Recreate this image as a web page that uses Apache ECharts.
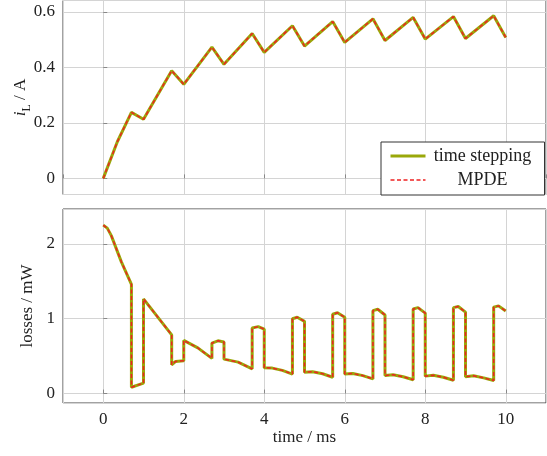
<!DOCTYPE html>
<html>
<head>
<meta charset="utf-8">
<script src="https://cdn.jsdelivr.net/npm/echarts@6/dist/echarts.min.js"></script>
<style>
  html, body { margin: 0; padding: 0; background: #fff; }
</style>
</head>
<body>
<div id="myChart" style="width:547px;height:456px;"></div>
<script>
// inductor current i_L (A)
const currentTime = [0, 0.35, 0.7, 1, 1.7, 2, 2.7, 3, 3.7, 4, 4.7, 5, 5.7, 6, 6.7, 7, 7.7, 8, 8.7, 9, 9.7, 10];
const currentVals = [0, 0.132, 0.238, 0.213, 0.388, 0.339, 0.473, 0.411, 0.522, 0.454, 0.550, 0.477,
  0.565, 0.490, 0.575, 0.497, 0.580, 0.502, 0.583, 0.504, 0.586, 0.508];

// losses (mW), lower plot -- repeated times are the switching jumps
const lossTime = [0, 0.1, 0.2, 0.3, 0.45, 0.7, 0.7, 1, 1, 1.7, 1.7, 1.8, 2, 2, 2.35, 2.7, 2.7, 2.85, 3,
  3, 3.35, 3.7, 3.7, 3.85, 4, 4, 4.2, 4.45, 4.7, 4.7, 4.82, 5, 5, 5.2, 5.45, 5.7, 5.7, 5.82, 6,
  6, 6.2, 6.45, 6.7, 6.7, 6.82, 7, 7, 7.2, 7.45, 7.7, 7.7, 7.82, 8, 8, 8.2, 8.45, 8.7, 8.7, 8.82, 9,
  9, 9.2, 9.45, 9.7, 9.7, 9.82, 10];
const lossVals = [2.25, 2.21, 2.11, 1.97, 1.76, 1.46, 0.085, 0.14, 1.265, 0.785, 0.385, 0.43, 0.44, 0.71, 0.61, 0.47, 0.675, 0.705, 0.69,
  0.46, 0.42, 0.33, 0.875, 0.895, 0.86, 0.345, 0.34, 0.31, 0.26, 1.0, 1.02, 0.965, 0.285, 0.292, 0.265, 0.218, 1.06, 1.08, 1.02,
  0.262, 0.268, 0.24, 0.196, 1.108, 1.127, 1.05, 0.24, 0.252, 0.225, 0.184, 1.13, 1.148, 1.075, 0.233, 0.245, 0.218, 0.178, 1.148, 1.163, 1.088,
  0.226, 0.237, 0.21, 0.174, 1.155, 1.172, 1.103];

// MPDE solution lies on top of the time stepping one
const mpdeCurrentVals = currentVals;
const mpdeLossVals = lossVals;

const seriesNames = ['time stepping', 'MPDE'];

const pairs = (xs, ys) => xs.map((x, i) => [x, ys[i]]);

const font = 'Liberation Serif';
const gridColor = '#d4d4d4';
const olive = '#9aa80a';
const red = '#ee2222';
const solidStyle = { color: olive, width: 3 };
const dashStyle = { color: red, width: 1.5, type: [4, 2.5] };

const valueAxis = (extra) => Object.assign({
  type: 'value',
  axisLine: { show: false },
  axisTick: { show: true, inside: true, length: 4, lineStyle: { color: '#888' } },
  splitLine: { show: true, lineStyle: { color: gridColor, width: 1 } },
  axisLabel: { fontFamily: font, fontSize: 17, color: '#222', showMinLabel: false, showMaxLabel: false },
  nameTextStyle: { fontFamily: font, fontSize: 17, color: '#222' },
  nameMoveOverlap: false
}, extra);

let myChart = echarts.init(document.getElementById('myChart'));
myChart.setOption({
  animation: false,
  grid: [
    { left: 63, top: 0.5, width: 483, height: 194, show: true, borderColor: '#444', borderWidth: 1, outerBoundsMode: 'none' },
    { left: 63, top: 209, width: 483, height: 194, show: true, borderColor: '#444', borderWidth: 1, outerBoundsMode: 'none' }
  ],
  legend: {
    data: [
      { name: seriesNames[0], lineStyle: solidStyle },
      { name: seriesNames[1], lineStyle: dashStyle }
    ],
    orient: 'vertical',
    left: 381,
    top: 142,
    padding: [5, 10, 6, 8],
    itemGap: 6,
    itemWidth: 35,
    itemHeight: 14,
    borderColor: '#333',
    borderWidth: 1,
    borderRadius: 0,
    backgroundColor: '#fff',
    itemStyle: { opacity: 0 },
    formatter: name => '{a|' + name + '}',
    textStyle: {
      rich: { a: { fontFamily: font, fontSize: 18, color: '#222', width: 104, align: 'center', lineHeight: 18 } }
    }
  },
  xAxis: [
    valueAxis({ gridIndex: 0, min: -1, max: 11, splitNumber: 6, axisLabel: { show: false } }),
    valueAxis({
      gridIndex: 1, min: -1, max: 11, splitNumber: 6,
      name: 'time / ms', nameLocation: 'middle', nameGap: 26
    })
  ],
  yAxis: [
    valueAxis({
      gridIndex: 0, min: -0.058, max: 0.641, splitNumber: 4,
      name: '{i|i}{s|L}{t| / A}', nameLocation: 'middle', nameGap: 30,
      nameTextStyle: {
        rich: {
          i: { fontFamily: font, fontSize: 17, fontStyle: 'italic', color: '#222', lineHeight: 24 },
          s: { fontFamily: font, fontSize: 12, color: '#222', lineHeight: 12, verticalAlign: 'bottom' },
          t: { fontFamily: font, fontSize: 17, color: '#222', lineHeight: 24 }
        }
      }
    }),
    valueAxis({
      gridIndex: 1, min: -0.126, max: 2.466, splitNumber: 3,
      name: 'losses / mW', nameLocation: 'middle', nameGap: 27
    })
  ],
  series: [
    {
      name: seriesNames[0], type: 'line', xAxisIndex: 0, yAxisIndex: 0, symbol: 'none',
      lineStyle: solidStyle, itemStyle: { color: olive },
      data: pairs(currentTime, currentVals)
    },
    {
      name: seriesNames[1], type: 'line', xAxisIndex: 0, yAxisIndex: 0, symbol: 'none',
      lineStyle: dashStyle, itemStyle: { color: red },
      data: pairs(currentTime, mpdeCurrentVals)
    },
    {
      name: seriesNames[0], type: 'line', xAxisIndex: 1, yAxisIndex: 1, symbol: 'none',
      lineStyle: solidStyle, itemStyle: { color: olive },
      data: pairs(lossTime, lossVals)
    },
    {
      name: seriesNames[1], type: 'line', xAxisIndex: 1, yAxisIndex: 1, symbol: 'none',
      lineStyle: dashStyle, itemStyle: { color: red },
      data: pairs(lossTime, mpdeLossVals)
    }
  ]
});

window.onresize = function () {
  myChart.resize();
};
</script>
</body>
</html>
